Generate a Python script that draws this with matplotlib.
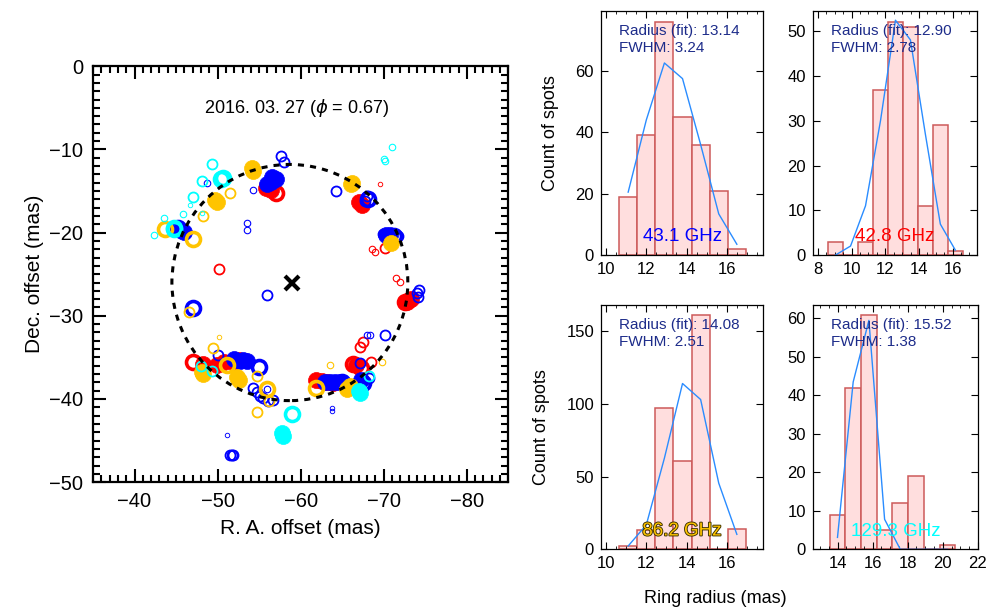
"""
Maser spot map (left) and ring-radius histograms per frequency (right).
"""

import matplotlib.pyplot as plt
import matplotlib.patheffects as pe
from matplotlib.patches import Circle
from matplotlib.ticker import MultipleLocator

plt.rcParams["font.family"] = ["Liberation Sans", "DejaVu Sans"]

# ── Spot map data: R.A. / Dec. offsets (mas) and flux class (1 = weak … 5 = strong)
red_ra = [-56.4, -67.4, -69.5, -68.9, -70.1, -50.2, -71.5, -71.9, -73.1, -67.5, -67.2,
          -47.1, -49.9, -51.9, -53.3, -61.9, -66.7, -68.5, -63.9, -68.6, -72.6, -73.5,
          -55.8, -57.0, -67.0, -48.3, -50.8, -52.6, -62.6, -63.2, -73.3, -72.8, -66.3,
          -67.3]
red_dec = [-14.9, -16.7, -14.2, -22.3, -21.9, -24.4, -25.4, -25.9, -28.1, -33.1, -33.7,
           -35.5, -35.9, -35.5, -35.3, -37.7, -35.9, -35.5, -38.1, -22.0, -28.3, -27.8,
           -14.6, -15.2, -16.3, -35.8, -35.6, -35.3, -37.8, -38.0, -28.0, -28.4, -35.8,
           -36.3]
red_flux = [5, 5, 1, 2, 3, 3, 2, 2, 5, 3, 3, 4, 5, 5, 3, 5, 5, 3, 5, 2, 4, 3,
            5, 4, 5, 5, 5, 5, 5, 5, 5, 5, 4, 4]

blue_ra = [-57.6, -58.0, -56.4, -56.5, -48.7, -54.3, -64.3, -68.1, -45.5, -53.5, -53.5,
           -70.7, -71.7, -74.2, -74.1, -56.0, -47.1, -68.3, -70.2, -50.1, -53.1, -52.7,
           -55.0, -54.3, -55.1, -56.7, -55.9, -51.1, -51.7, -51.5, -51.9, -63.8, -63.8,
           -63.5, -64.7, -67.1, -67.3, -68.2, -68.0, -69.9,
           -57.0, -56.0, -45.9, -45.2, -70.3, -71.2, -52.0, -53.6, -62.9, -64.1, -65.0,
           -67.5, -54.8, -55.5, -56.1, -74.0, -68.0, -67.8]
blue_dec = [-10.8, -11.5, -13.9, -13.3, -14.0, -14.9, -15.0, -15.9, -19.7, -18.8, -19.7,
            -20.3, -20.4, -26.9, -27.7, -27.5, -29.1, -32.3, -32.3, -34.7, -35.3, -35.4,
            -36.1, -38.7, -39.7, -40.1, -38.8, -44.3, -46.7, -46.7, -46.7, -41.1, -41.5,
            -37.9, -37.9, -35.7, -37.7, -37.5, -32.3, -20.2,
            -13.5, -14.2, -19.9, -19.5, -20.3, -20.4, -35.2, -35.4, -37.9, -38.0, -37.9,
            -38.1, -39.2, -39.9, -40.2, -27.3, -15.6, -16.2]
blue_flux = [3, 3, 5, 5, 2, 2, 3, 4, 5, 2, 2, 5, 3, 3, 3, 3, 4, 2, 3, 3, 5, 5,
             4, 3, 3, 3, 2, 1, 3, 3, 3, 1, 1, 5, 5, 3, 5, 3, 2, 3,
             5, 5, 5, 4, 5, 4, 5, 5, 5, 5, 4, 4, 3, 3, 3, 3, 3, 3]

gold_ra = [-54.1, -66.2, -49.7, -51.5, -48.3, -43.7, -47.0, -70.9, -46.5, -49.4, -50.2,
           -48.1, -51.1, -52.3, -54.7, -55.9, -56.2, -54.7, -63.5, -61.8, -65.9, -69.8,
           -54.3, -66.0, -65.6, -52.6, -48.3, -49.9]
gold_dec = [-12.2, -14.0, -16.1, -15.2, -18.0, -19.6, -20.8, -21.3, -29.6, -33.9, -32.5,
            -36.7, -35.9, -37.4, -37.2, -38.8, -40.3, -41.6, -35.9, -38.7, -38.4, -35.6,
            -12.6, -14.2, -38.8, -37.7, -37.0, -16.3]
gold_flux = [5, 5, 5, 3, 3, 4, 4, 5, 3, 3, 1, 5, 4, 5, 3, 4, 3, 3, 2, 4, 5, 2,
             5, 5, 5, 5, 5, 5]

cyan_ra = [-71.0, -70.2, -70.0, -49.3, -48.1, -50.6, -47.1, -46.7, -45.8, -48.1, -43.5,
           -42.4, -44.7, -48.0, -49.3, -58.9, -57.7, -67.0, -68.2,
           -57.9, -67.1, -50.4, -44.7]
cyan_dec = [-9.65, -11.4, -11.1, -11.8, -13.8, -13.4, -15.7, -16.7, -17.8, -17.6, -18.3,
            -20.3, -19.4, -36.0, -36.6, -41.8, -44.1, -39.0, -37.2,
            -44.4, -39.3, -13.6, -19.6]
cyan_flux = [2, 2, 2, 3, 3, 4, 3, 1, 2, 1, 2, 2, 4, 3, 3, 4, 5, 5, 3,
             5, 5, 4, 4]

ring_center = (-58.7, -26.0)
ring_radius = 14.2
star_pos = (-59.0, -26.0)

# ── Ring-radius histograms (bin left edges, bin width, counts, fitted curve at bin centres)
h431_start, h431_width = 10.65, 0.9
h431_counts = [19, 39, 76, 45, 36, 21, 2]
h431_fit = [20.5, 44, 62.6, 57.5, 36, 13.4, 3.5]

h428_start, h428_width = 8.6, 0.89
h428_counts = [3, 0, 3, 37, 52, 51, 11, 29, 1]
h428_fit = [0, 2.0, 11.0, 30, 52.5, 48.1, 27, 6.9, 1.1]

h862_start, h862_width = 10.65, 0.9
h862_counts = [2, 13, 97, 61, 161, 0, 14]
h862_fit = [2.3, 16.8, 62.7, 114, 103, 45.5, 10.3]

h1293_start, h1293_width = 13.55, 0.895
h1293_counts = [9, 42, 61, 5, 12, 19, 0, 1]
h1293_fit = [3.1, 43.5, 59.5, 7.8, 0, 0, 0, 0]

fit_radius = ["13.14", "12.90", "14.08", "15.52"]
fit_fwhm = ["3.24", "2.78", "2.51", "1.38"]
freq_labels = ["43.1 GHz", "42.8 GHz", "86.2 GHz", "129.3 GHz"]

RED, BLUE, GOLD, CYAN = "#ff0000", "#0000ff", "#ffc400", "#00ffff"
NAVY = "#1d2c8a"

# marker diameter (px) and ring width (px) per flux class
DIAM = {1: 4.5, 2: 6.5, 3: 10, 4: 14, 5: 16}
RING = {1: 0.9, 2: 1.1, 3: 1.8, 4: 3.6, 5: 0}

fig = plt.figure(figsize=(9.89, 6.08), dpi=100)

# ── Left panel: spot map ─────────────────────────────────────────────────────
ax = fig.add_axes([0.094, 0.207, 0.420, 0.684])


def draw_spots(ra, dec, flux, color):
    for x, y, f in zip(ra, dec, flux):
        d = DIAM[f] * 0.72
        if f == 5:
            ax.plot(x, y, "o", ms=d, mfc=color, mec=color, mew=0.5, zorder=3)
        else:
            ax.plot(x, y, "o", ms=d, mfc="none", mec=color, mew=RING[f] * 0.72, zorder=3)


draw_spots(red_ra, red_dec, red_flux, RED)
draw_spots(blue_ra, blue_dec, blue_flux, BLUE)
draw_spots(gold_ra, gold_dec, gold_flux, GOLD)
draw_spots(cyan_ra, cyan_dec, cyan_flux, CYAN)

ax.add_patch(Circle(ring_center, ring_radius, fill=False, ec="black", lw=2.2,
                    ls=(0, (2.0, 2.0)), zorder=4))
ax.plot(*star_pos, marker="x", ms=10, mew=3, color="black", zorder=5)

ax.set_xlim(-35, -85)
ax.set_ylim(-50, 0)
ax.xaxis.set_major_locator(MultipleLocator(10))
ax.xaxis.set_minor_locator(MultipleLocator(1))
ax.yaxis.set_major_locator(MultipleLocator(10))
ax.yaxis.set_minor_locator(MultipleLocator(1))
ax.tick_params(which="both", direction="in", top=True, right=True, width=1.5, labelsize=14.5)
ax.tick_params(which="major", length=9.5, pad=7)
ax.tick_params(which="minor", length=5)
for s in ax.spines.values():
    s.set_linewidth(1.6)
ax.set_xlabel("R. A. offset (mas)", fontsize=15, labelpad=6)
ax.set_ylabel("Dec. offset (mas)", fontsize=15, labelpad=4)
ax.text(0.49, 0.90, "2016. 03. 27 ($\\phi$ = 0.67)", transform=ax.transAxes,
        ha="center", va="center", fontsize=13)

# ── Right panels: histograms ─────────────────────────────────────────────────
panels = [
    ([0.6077, 0.5806, 0.1638, 0.4016], h431_start, h431_width, h431_counts, h431_fit,
     (9.75, 17.8), (0, 79.6), 20, BLUE),
    ([0.8220, 0.5806, 0.1658, 0.4016], h428_start, h428_width, h428_counts, h428_fit,
     (7.7, 17.45), (0, 54.6), 10, RED),
    ([0.6077, 0.0965, 0.1638, 0.4019], h862_start, h862_width, h862_counts, h862_fit,
     (9.75, 17.8), (0, 168), 50, GOLD),
    ([0.8220, 0.0965, 0.1668, 0.4019], h1293_start, h1293_width, h1293_counts, h1293_fit,
     (12.6, 22.0), (0, 63.5), 10, CYAN),
]

for i, (rect, start, width, counts, fit, xlim, ylim, ystep, fcol) in enumerate(panels):
    hx = fig.add_axes(rect)
    edges = [start + k * width for k in range(len(counts))]
    centers = [e + width / 2 for e in edges]
    hx.bar(edges, counts, width=width, align="edge", color="#ffdede",
           edgecolor="#cd5a5a", linewidth=1.1)
    hx.plot(centers, fit, color="#2a8cff", lw=1.0)
    hx.set_xlim(*xlim)
    hx.set_ylim(*ylim)
    hx.xaxis.set_major_locator(MultipleLocator(2))
    hx.xaxis.set_minor_locator(MultipleLocator(0.5))
    hx.yaxis.set_major_locator(MultipleLocator(ystep))
    hx.tick_params(which="both", direction="in", top=True, right=True, labelsize=12)
    hx.tick_params(which="major", length=5, pad=5)
    hx.tick_params(which="minor", length=2.5)
    for s in hx.spines.values():
        s.set_linewidth(0.9)

    hx.text(0.108, 0.945, f"Radius (fit): {fit_radius[i]}", transform=hx.transAxes,
            ha="left", va="top", fontsize=11, color=NAVY)
    hx.text(0.108, 0.876, f"FWHM: {fit_fwhm[i]}", transform=hx.transAxes,
            ha="left", va="top", fontsize=11, color=NAVY)

    t = hx.text(0.50, 0.075, freq_labels[i], transform=hx.transAxes,
                ha="center", va="center", fontsize=13.5, color=fcol)
    if fcol == GOLD:
        t.set_path_effects([pe.withStroke(linewidth=1.3, foreground="#3a3000")])

    if i % 2 == 0:
        hx.set_ylabel("Count of spots", fontsize=13, labelpad=12)

fig.text(0.723, 0.016, "Ring radius (mas)", ha="center", va="center", fontsize=13)

fig.savefig("out.png", dpi=100)
